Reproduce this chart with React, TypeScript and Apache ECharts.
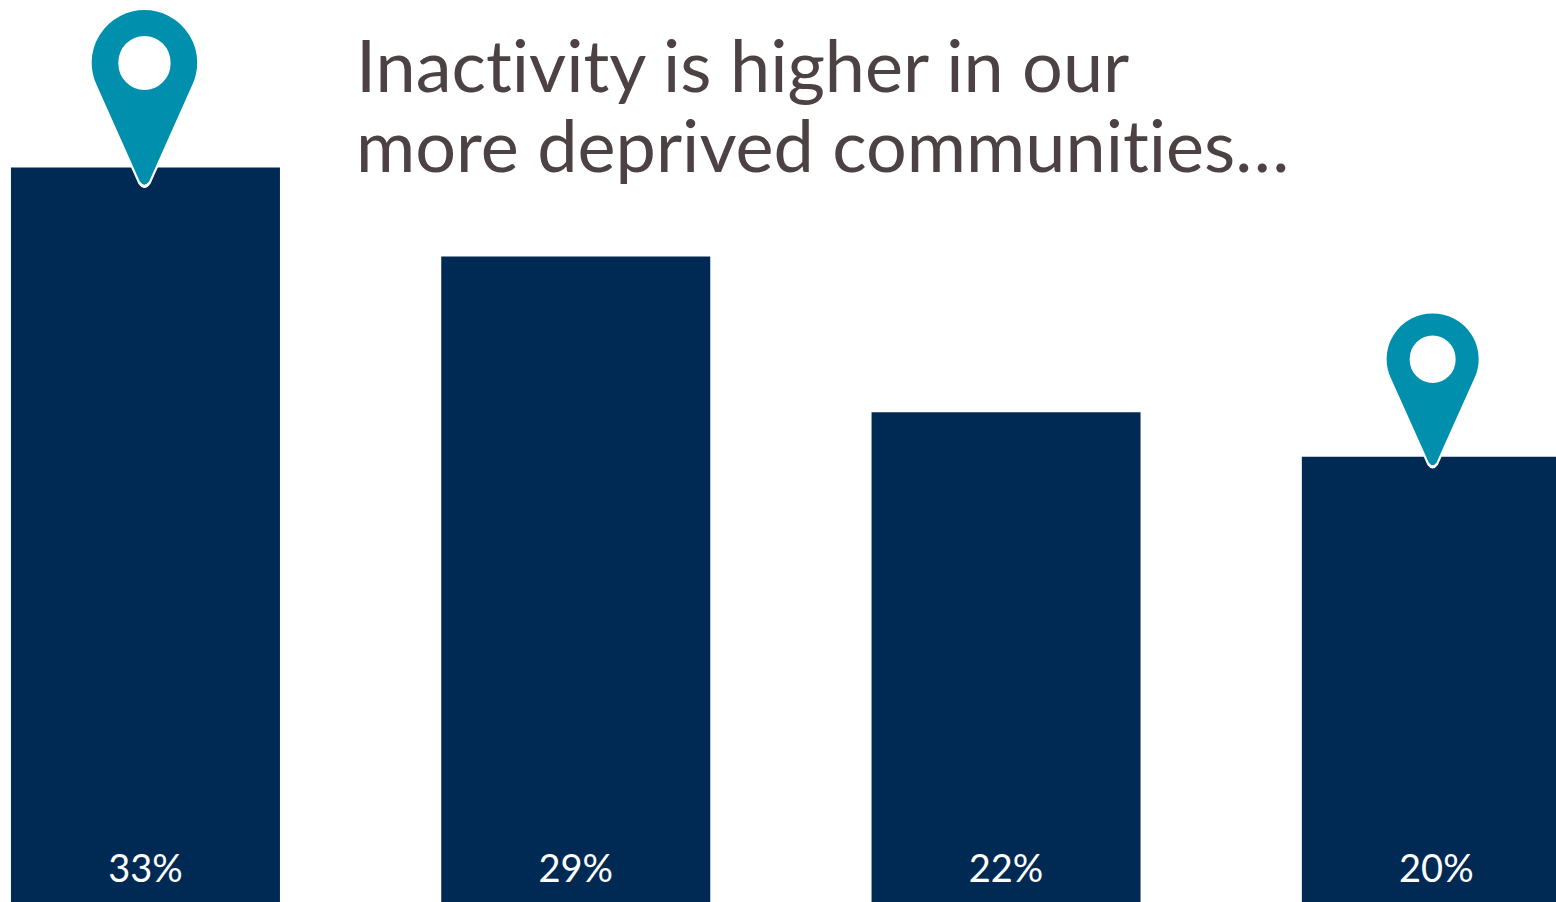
import React, { useEffect, useRef } from "react";
import * as echarts from "echarts";

const categories = ["Group 1", "Group 2", "Group 3", "Group 4"];
const inactivity = [33, 29, 22, 20];
const titleLines = "Inactivity is higher in our\nmore deprived communities…";

const NAVY = "#002a54";
const TEAL = "#0090ae";
const INK = "#4c4244";

// Map pin: a teardrop with a round hole, the hole wound the opposite way.
const PIN =
  "path://M5.5 76.6A53.3 53.3 0 1 1 101.1 76.6L58.5 171Q53.3 178 48.1 171Z" +
  "M78.3 53.3A25 25 0 1 0 28.3 53.3A25 25 0 1 0 78.3 53.3Z";

export default function App() {
  const ref = useRef<HTMLDivElement>(null);

  useEffect(() => {
    const chart = echarts.init(ref.current!, null, { renderer: "svg" });
    chart.setOption({
      animation: false,
      backgroundColor: "#ffffff",
      title: {
        text: titleLines,
        left: 351,
        top: 19,
        textStyle: {
          fontFamily: "Lato",
          fontWeight: 400,
          fontSize: 72,
          lineHeight: 80,
          color: INK,
        },
      },
      // The last bar runs past the right edge of the canvas, so the grid is wider than the page.
      grid: { left: -69.7, width: 1721.2, top: 11.6, height: 890.4, outerBoundsMode: "none" },
      xAxis: { type: "category", data: categories, show: false },
      yAxis: { type: "value", min: 0, max: 40, show: false },
      series: [
        {
          type: "bar",
          data: inactivity,
          barWidth: 269,
          itemStyle: { color: NAVY },
          label: {
            show: true,
            position: "insideBottom",
            distance: 16,
            formatter: "{c}%",
            color: "#ffffff",
            fontFamily: "Lato",
            fontSize: 38,
          },
          markPoint: {
            symbol: PIN,
            symbolKeepAspect: false,
            itemStyle: { color: TEAL, borderColor: "#ffffff", borderWidth: 2.5 },
            label: { show: false },
            data: [
              {
                coord: [categories[0], inactivity[0]],
                symbolSize: [107.5, 178],
                symbolOffset: [-1, -70],
              },
              {
                coord: [categories[3], inactivity[3]],
                symbolSize: [94, 155],
                symbolOffset: [-3.7, -67.5],
              },
            ],
          },
        },
      ],
    });
    return () => chart.dispose();
  }, []);

  return (
    <div
      ref={ref}
      style={{
        position: "absolute",
        left: 0,
        top: 0,
        width: 1556,
        height: 902,
        overflow: "hidden",
        fontVariantLigatures: "none",
      }}
    />
  );
}
